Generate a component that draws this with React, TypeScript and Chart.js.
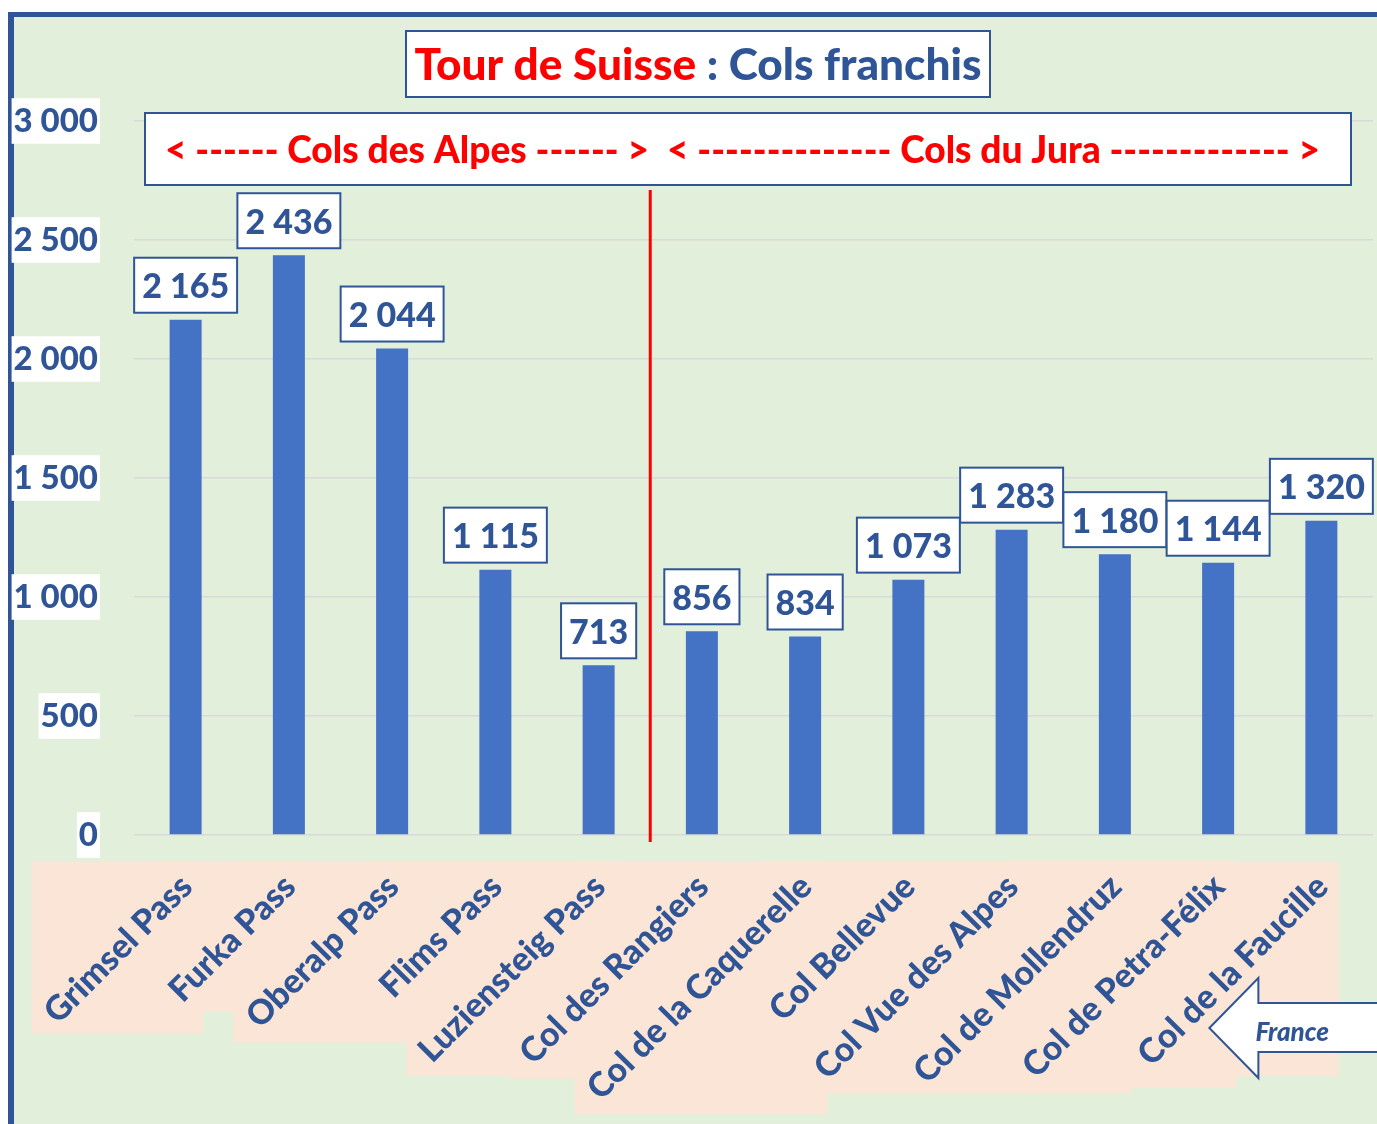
import React, { useEffect, useRef } from 'react';
import { Chart, registerables } from 'chart.js';

Chart.register(...registerables);

// ---------- data ----------
const categories = [
  'Grimsel Pass',
  'Furka Pass',
  'Oberalp Pass',
  'Flims Pass',
  'Luziensteig Pass',
  'Col des Rangiers',
  'Col de la Caquerelle',
  'Col Bellevue',
  'Col Vue des Alpes',
  'Col de Mollendruz',
  'Col de Petra-Félix',
  'Col de la Faucille',
];
const altitudes = [2165, 2436, 2044, 1115, 713, 856, 834, 1073, 1283, 1180, 1144, 1320];
const yTicks = [0, 500, 1000, 1500, 2000, 2500, 3000];
const alpesCount = 5; // first 5 passes are in the Alps
const titleRed = 'Tour de Suisse';
const titleBlue = ' : Cols franchis';
const alpesLabel = '< ------ Cols des Alpes ------ >';
const juraLabel = '< -------------- Cols du Jura ------------- >';
const franceLabel = 'France';

// ---------- styles ----------
const FONT = 'Lato, Carlito, Calibri, "Open Sans", sans-serif';
const W_BOLD = '900';
const BLUE = '#2F5597';
const BAR = '#4472C4';
const RED = '#FF0000';
const GREEN_BG = '#E2EFDA';
const PEACH = '#FBE5D6';

const fmt = (v: number | string) => String(v).replace(/\B(?=(\d{3})+(?!\d))/g, ' ');

function fitSize(ctx: CanvasRenderingContext2D, text: string, target: number, style: string) {
  ctx.font = `${style} 100px ${FONT}`;
  const w = ctx.measureText(text).width;
  return (100 * target) / w;
}

const decor = {
  id: 'decor',
  beforeDraw(chart: any) {
    const ctx: CanvasRenderingContext2D = chart.ctx;
    const W = chart.width;
    const H = chart.height;
    ctx.save();
    ctx.fillStyle = '#ffffff';
    ctx.fillRect(0, 0, W, H);
    ctx.fillStyle = GREEN_BG;
    ctx.fillRect(8, 12, W - 8, H - 12);
    ctx.fillStyle = BLUE;
    ctx.fillRect(8, 12, W - 8, 5);
    ctx.fillRect(8, 12, 6, H - 12);
    ctx.restore();
  },
  afterDraw(chart: any) {
    const ctx: CanvasRenderingContext2D = chart.ctx;
    const xs = chart.scales.x;
    const area = chart.chartArea;
    const axisY = area.bottom;
    ctx.save();

    // ---- rotated category labels with peach backgrounds ----
    const ang = -Math.PI / 4;
    const c = Math.cos(ang);
    const s = Math.sin(ang);
    ctx.font = `${W_BOLD} 34px ${FONT}`;
    ctx.textAlign = 'right';
    ctx.textBaseline = 'middle';
    const pad = 9;
    const anchors = categories.map((lab, i) => {
      const ax = xs.getPixelForValue(i) + 1;
      const ay = axisY + 46;
      const m = ctx.measureText(lab);
      const l = -m.actualBoundingBoxLeft;
      const r = m.actualBoundingBoxRight;
      const t = -m.actualBoundingBoxAscent;
      const b = m.actualBoundingBoxDescent;
      const pts = [
        [l, t],
        [r, t],
        [l, b],
        [r, b],
      ].map(([x, y]) => [ax + x * c - y * s, ay + x * s + y * c]);
      const minX = Math.min(...pts.map((p) => p[0])) - pad;
      const maxX = Math.max(...pts.map((p) => p[0])) + pad;
      const minY = Math.min(...pts.map((p) => p[1])) - pad;
      const maxY = Math.max(...pts.map((p) => p[1])) + pad;
      return { ax, ay, minX, maxX, minY, maxY, lab };
    });
    ctx.fillStyle = PEACH;
    anchors.forEach((a) => ctx.fillRect(a.minX, a.minY, a.maxX - a.minX, a.maxY - a.minY));
    ctx.fillStyle = BLUE;
    anchors.forEach((a) => {
      ctx.save();
      ctx.translate(a.ax, a.ay);
      ctx.rotate(ang);
      ctx.fillText(a.lab, 0, 0);
      ctx.restore();
    });

    // ---- France arrow ----
    const lastX = xs.getPixelForValue(categories.length - 1);
    const tipX = lastX - 112;
    const tipY = 1028;
    const headX = tipX + 49;
    ctx.beginPath();
    ctx.moveTo(tipX, tipY);
    ctx.lineTo(headX, tipY - 50);
    ctx.lineTo(headX, tipY - 25);
    ctx.lineTo(chart.width + 10, tipY - 25);
    ctx.lineTo(chart.width + 10, tipY + 24);
    ctx.lineTo(headX, tipY + 24);
    ctx.lineTo(headX, tipY + 50);
    ctx.closePath();
    ctx.fillStyle = '#ffffff';
    ctx.fill();
    ctx.strokeStyle = BLUE;
    ctx.lineWidth = 2;
    ctx.stroke();
    ctx.font = `italic ${W_BOLD} 26px ${FONT}`;
    ctx.fillStyle = BLUE;
    ctx.textAlign = 'left';
    ctx.textBaseline = 'alphabetic';
    ctx.fillText(franceLabel, headX - 3, tipY + 13);

    // ---- red divider between Alps and Jura ----
    const divX = (xs.getPixelForValue(alpesCount - 1) + xs.getPixelForValue(alpesCount)) / 2;
    ctx.beginPath();
    ctx.moveTo(divX, 190);
    ctx.lineTo(divX, axisY + 7);
    ctx.strokeStyle = RED;
    ctx.lineWidth = 3;
    ctx.stroke();

    // ---- value labels ----
    const meta = chart.getDatasetMeta(0);
    ctx.font = `${W_BOLD} 34px ${FONT}`;
    ctx.textAlign = 'center';
    ctx.textBaseline = 'middle';
    meta.data.forEach((el: any, i: number) => {
      const txt = fmt(altitudes[i]);
      const w = ctx.measureText(txt).width;
      const bw = w + 16;
      const bh = 55;
      const bx = el.x - bw / 2;
      const by = el.y - 7 - bh;
      ctx.fillStyle = '#ffffff';
      ctx.fillRect(bx, by, bw, bh);
      ctx.strokeStyle = BLUE;
      ctx.lineWidth = 2;
      ctx.strokeRect(bx, by, bw, bh);
      ctx.fillStyle = BLUE;
      ctx.fillText(txt, el.x, by + bh / 2 + 2);
    });

    // ---- title box ----
    ctx.fillStyle = '#ffffff';
    ctx.fillRect(406, 31, 584, 66);
    ctx.strokeStyle = BLUE;
    ctx.lineWidth = 2;
    ctx.strokeRect(406, 31, 584, 66);
    const tSize = fitSize(ctx, titleRed + titleBlue, 567, W_BOLD);
    ctx.font = `${W_BOLD} ${tSize}px ${FONT}`;
    const wRed = ctx.measureText(titleRed).width;
    const wAll = ctx.measureText(titleRed + titleBlue).width;
    const tx0 = 698 - wAll / 2;
    ctx.textAlign = 'left';
    ctx.textBaseline = 'middle';
    ctx.fillStyle = RED;
    ctx.fillText(titleRed, tx0, 66);
    ctx.fillStyle = BLUE;
    ctx.fillText(titleBlue, tx0 + wRed, 66);

    // ---- subtitle box ----
    ctx.fillStyle = '#ffffff';
    ctx.fillRect(145, 113, 1206, 72);
    ctx.strokeStyle = BLUE;
    ctx.lineWidth = 2;
    ctx.strokeRect(145, 113, 1206, 72);
    const s1 = fitSize(ctx, alpesLabel, 490, W_BOLD);
    const s2 = fitSize(ctx, juraLabel, 645, W_BOLD);
    const sSize = (s1 + s2) / 2;
    ctx.font = `${W_BOLD} ${sSize}px ${FONT}`;
    ctx.fillStyle = RED;
    ctx.textAlign = 'left';
    ctx.fillText(alpesLabel, 165, 151);
    ctx.textAlign = 'right';
    ctx.fillText(juraLabel, 1320, 151);

    ctx.restore();
  },
};

export default function App() {
  const ref = useRef<HTMLCanvasElement>(null);
  useEffect(() => {
    const canvas = ref.current!;
    const chart = new Chart(canvas, {
      type: 'bar',
      data: {
        labels: categories,
        datasets: [
          {
            data: altitudes,
            backgroundColor: BAR,
            borderWidth: 0,
            categoryPercentage: 1,
            barPercentage: 0.31,
          },
        ],
      },
      options: {
        responsive: false,
        animation: false,
        devicePixelRatio: 1,
        layout: { padding: { left: 8, right: 4, top: 121, bottom: 289 } },
        plugins: {
          legend: { display: false },
          tooltip: { enabled: false },
          title: { display: false },
        },
        scales: {
          x: { display: false, offset: true, grid: { display: false } },
          y: {
            min: yTicks[0],
            max: yTicks[yTicks.length - 1],
            ticks: {
              stepSize: yTicks[1] - yTicks[0],
              callback: (v: any) => fmt(v),
              font: { family: FONT, size: 33, weight: W_BOLD, lineHeight: 1.2 },
              color: BLUE,
              padding: 36,
              showLabelBackdrop: true,
              backdropColor: '#ffffff',
              backdropPadding: { x: 2, y: 3 },
            },
            grid: { color: '#D9D9D9', lineWidth: 1.5, drawTicks: false },
            border: { display: false },
            afterFit: (sc: any) => {
              sc.width = 126;
            },
          },
        },
      } as any,
      plugins: [decor],
    });
    return () => chart.destroy();
  }, []);
  return (
    <div style={{ position: 'fixed', left: 0, top: 0, width: 1377, height: 1124, overflow: 'hidden' }}>
      <canvas ref={ref} width={1377} height={1124} style={{ display: 'block' }} />
    </div>
  );
}
